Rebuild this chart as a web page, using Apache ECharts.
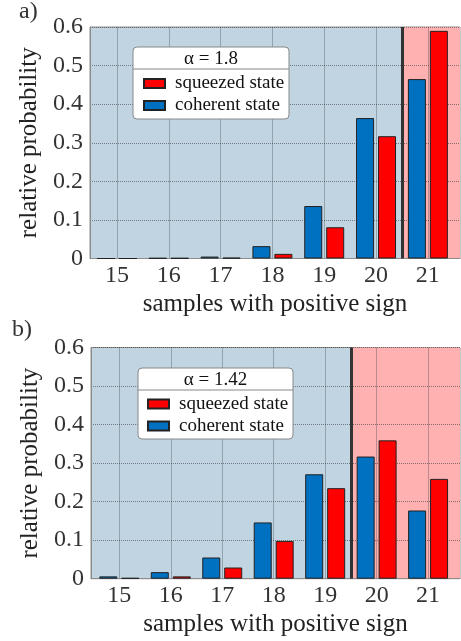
<!DOCTYPE html>
<html>
<head>
<meta charset="utf-8">
<script src="https://cdn.jsdelivr.net/npm/echarts@6/dist/echarts.min.js"></script>
<style>
  html, body { margin: 0; padding: 0; background: #fff; }
  #main { width: 461px; height: 641px; }
</style>
</head>
<body>
<div id="main"></div>
<script>
// samples with positive sign (x positions)
var samples = [15, 16, 17, 18, 19, 20, 21];

// panel a), alpha = 1.8
var coherentA = [0, 0.001, 0.005, 0.032, 0.136, 0.364, 0.465];
var squeezedA = [0, 0.001, 0.002, 0.012, 0.081, 0.317, 0.590];

// panel b), alpha = 1.42
var coherentB = [0.006, 0.017, 0.055, 0.146, 0.271, 0.317, 0.177];
var squeezedB = [0.002, 0.006, 0.029, 0.098, 0.235, 0.359, 0.259];

// decision threshold (divider between blue and red regions)
var thresholdA = 20.5;
var thresholdB = 19.5;

var alphaA = 'α = 1.8';
var alphaB = 'α = 1.42';

var serif = 'Liberation Serif';
var xRangeA = [14.48, 21.62];
var xRangeB = [14.45, 21.62];

function pairs(ys) {
    return samples.map(function (x, i) { return [x, ys[i]]; });
}

function xAxisOf(gridIndex, range) {
    return {
        type: 'value',
        gridIndex: gridIndex,
        min: range[0],
        max: range[1],
        z: 2,
        name: 'samples with positive sign',
        nameLocation: 'middle',
        nameGap: 33,
        nameTextStyle: { fontFamily: serif, fontSize: 25, color: '#222' },
        axisLine: { show: true, lineStyle: { color: '#8c8c8c', width: 1 } },
        axisTick: { show: false, customValues: samples },
        axisLabel: {
            margin: 5,
            fontFamily: serif,
            fontSize: 24,
            color: '#333',
            customValues: samples
        },
        splitLine: { show: true, lineStyle: { color: 'rgba(60,70,80,0.35)', width: 1 } }
    };
}

function yAxisOf(gridIndex) {
    return {
        type: 'value',
        gridIndex: gridIndex,
        min: 0,
        max: 0.6,
        interval: 0.1,
        z: 2,
        name: 'relative probability',
        nameLocation: 'middle',
        nameGap: 47,
        nameTextStyle: { fontFamily: serif, fontSize: 25, color: '#222' },
        axisLine: { show: true, lineStyle: { color: '#8c8c8c', width: 1 } },
        axisTick: { show: false },
        axisLabel: {
            margin: 7,
            fontFamily: serif,
            fontSize: 24,
            color: '#333',
            padding: [8, 0, 0, 0]
        },
        splitLine: { show: true, lineStyle: { color: 'rgba(60,60,60,0.6)', type: 'dotted', width: 1 } }
    };
}

function barSeries(name, idx, ys, color) {
    return {
        name: name,
        type: 'bar',
        xAxisIndex: idx,
        yAxisIndex: idx,
        data: pairs(ys),
        barWidth: 18,
        barGap: '22%',
        z: 3,
        itemStyle: { color: color, borderColor: '#222', borderWidth: 1 }
    };
}

// empty helper series carrying the red region and the threshold line
function dividerSeries(idx, threshold, range) {
    return {
        type: 'line',
        xAxisIndex: idx,
        yAxisIndex: idx,
        data: [],
        silent: true,
        markArea: {
            silent: true,
            z: 1,
            itemStyle: { color: '#ffb0b0' },
            data: [[{ xAxis: threshold }, { xAxis: range[1] }]]
        },
        markLine: {
            silent: true,
            symbol: 'none',
            label: { show: false },
            lineStyle: { color: '#333', width: 3, type: 'solid' },
            data: [{ xAxis: threshold }]
        }
    };
}

function legendOf(left, top) {
    return {
        left: left,
        top: top,
        orient: 'vertical',
        padding: 0,
        itemGap: 0,
        itemWidth: 21,
        itemHeight: 9,
        icon: 'rect',
        z: 6,
        data: ['squeezed state', 'coherent state'],
        textStyle: { fontFamily: serif, fontSize: 19, color: '#111', lineHeight: 22, padding: [0, 0, 0, 5] }
    };
}

function legendBox(x, y, w, h, sep, text) {
    return [
        {
            type: 'rect', z: 4,
            shape: { x: x, y: y, width: w, height: h, r: 4 },
            style: { fill: '#fff', stroke: '#888', lineWidth: 1 }
        },
        {
            type: 'line', z: 5,
            shape: { x1: x, y1: sep, x2: x + w, y2: sep },
            style: { stroke: '#888', lineWidth: 1 }
        },
        {
            type: 'text', z: 5,
            x: x + w / 2, y: (y + sep) / 2 + 1,
            style: { text: text, fontFamily: serif, fontSize: 19, fill: '#111', align: 'center', verticalAlign: 'middle' }
        }
    ];
}

var option = {
    backgroundColor: '#fff',
    animation: false,
    title: [
        { text: 'a)', left: 19, top: 0, padding: 0, textStyle: { fontFamily: serif, fontSize: 24, fontWeight: 'normal', color: '#333' } },
        { text: 'b)', left: 12, top: 318, padding: 0, textStyle: { fontFamily: serif, fontSize: 24, fontWeight: 'normal', color: '#333' } }
    ],
    grid: [
        { left: 90, right: 1, top: 27, height: 231.5, show: true, backgroundColor: '#c1d4e1', borderColor: '#8c8c8c', borderWidth: 1 },
        { left: 91, right: 1, top: 347.5, height: 231.2, show: true, backgroundColor: '#c1d4e1', borderColor: '#8c8c8c', borderWidth: 1 }
    ],
    xAxis: [xAxisOf(0, xRangeA), xAxisOf(1, xRangeB)],
    yAxis: [yAxisOf(0), yAxisOf(1)],
    legend: [legendOf(143, 72.5), legendOf(147, 393)],
    graphic: legendBox(133, 47, 156, 72, 69, alphaA).concat(legendBox(138, 368, 155, 71, 390, alphaB)),
    series: [
        barSeries('coherent state', 0, coherentA, '#0070c0'),
        barSeries('squeezed state', 0, squeezedA, '#ff0000'),
        dividerSeries(0, thresholdA, xRangeA),
        barSeries('coherent state', 1, coherentB, '#0070c0'),
        barSeries('squeezed state', 1, squeezedB, '#ff0000'),
        dividerSeries(1, thresholdB, xRangeB)
    ]
};

var myChart = echarts.init(document.getElementById('main'), null, { renderer: 'canvas' });
myChart.setOption(option);
</script>
</body>
</html>
